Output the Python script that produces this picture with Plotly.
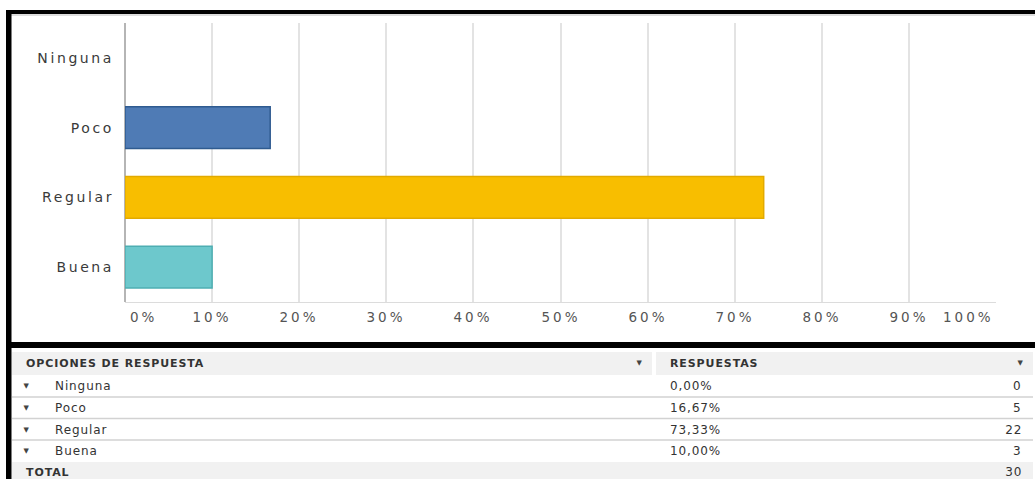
import plotly.graph_objects as go

# ---------------- data ----------------
categories = ["Ninguna", "Poco", "Regular", "Buena"]
percentages = [0.00, 16.67, 73.33, 10.00]
counts = [0, 5, 22, 3]
x_ticks = [0, 10, 20, 30, 40, 50, 60, 70, 80, 90, 100]
x_tick_labels = [f"{v}%" for v in x_ticks]
header_left = "OPCIONES DE RESPUESTA"
header_right = "RESPUESTAS"
total_label = "TOTAL"

# ---------------- styles ----------------
fill_colors = ["rgba(0,0,0,0)", "#4f7bb5", "#f8be00", "#6dc8cc"]
edge_colors = ["rgba(0,0,0,0)", "#2f5b90", "#e2aa00", "#4eaeb2"]

W, H = 1035, 479


def px(x):
    return x / W


def py(y):
    return 1 - y / H


CHART_FONT = "DejaVu Sans"
TABLE_FONT = "DejaVu Sans"

fig = go.Figure(
    go.Bar(
        x=percentages,
        y=categories,
        orientation="h",
        width=0.6,
        marker=dict(color=fill_colors, line=dict(color=edge_colors, width=1.5)),
        hoverinfo="skip",
    )
)

fig.update_layout(
    width=W,
    height=H,
    margin=dict(l=0, r=0, t=0, b=0),
    paper_bgcolor="white",
    plot_bgcolor="white",
    showlegend=False,
    xaxis=dict(
        domain=[px(125), px(996)],
        range=[0, 100],
        tickvals=x_ticks,
        showticklabels=False,
        showgrid=True,
        gridcolor="#e3e3e3",
        gridwidth=2,
        zeroline=True,
        zerolinecolor="#b5b5b5",
        zerolinewidth=2,
        showline=True,
        linecolor="#dcdcdc",
        linewidth=1,
        fixedrange=True,
    ),
    yaxis=dict(
        domain=[py(302), py(23)],
        categoryorder="array",
        categoryarray=list(reversed(categories)),
        range=[-0.5, 3.5],
        showgrid=False,
        zeroline=False,
        ticks="",
        ticklabelstandoff=10,
        tickfont=dict(family=CHART_FONT, size=14, color="#3a3a3a"),
        fixedrange=True,
    ),
)

annotations = []
# x tick labels (first left aligned, last right aligned as in the source)
for v, lab in zip(x_ticks, x_tick_labels):
    anchor = "center"
    if v == x_ticks[0]:
        anchor = "left"
    elif v == x_ticks[-1]:
        anchor = "right"
    annotations.append(
        dict(
            x=v, y=py(317), xref="x", yref="paper", text=lab, showarrow=False,
            xanchor=anchor, align=anchor, yanchor="middle",
            xshift=3 if anchor == "left" else 0,
            font=dict(family=CHART_FONT, size=13.5, color="#555555"),
        )
    )
N_XTICK_ANN = len(annotations)

shapes = []
# black frame around chart
shapes.append(dict(type="rect", xref="paper", yref="paper", x0=px(6), x1=1, y0=py(14), y1=py(10),
                   fillcolor="black", line=dict(width=0)))
shapes.append(dict(type="line", xref="paper", yref="paper", x0=px(11), x1=1, y0=py(15), y1=py(15),
                   line=dict(color="#bbbbbb", width=1)))
shapes.append(dict(type="rect", xref="paper", yref="paper", x0=px(6), x1=px(11.5), y0=0, y1=py(10),
                   fillcolor="black", line=dict(width=0)))
shapes.append(dict(type="rect", xref="paper", yref="paper", x0=px(6), x1=1, y0=py(348), y1=py(342),
                   fillcolor="black", line=dict(width=0)))

# table backgrounds
TL, TR, COLDIV = 12, 1033, 654
shapes.append(dict(type="rect", xref="paper", yref="paper", x0=px(TL), x1=px(COLDIV - 2), y0=py(375), y1=py(352),
                   fillcolor="#f1f1f1", line=dict(width=0)))
shapes.append(dict(type="rect", xref="paper", yref="paper", x0=px(COLDIV + 2), x1=px(TR), y0=py(375), y1=py(352),
                   fillcolor="#f1f1f1", line=dict(width=0)))
shapes.append(dict(type="rect", xref="paper", yref="paper", x0=px(TL), x1=px(TR), y0=0, y1=py(462),
                   fillcolor="#f1f1f1", line=dict(width=0)))
for ysep in [397, 418.5, 440]:
    shapes.append(dict(type="line", xref="paper", yref="paper", x0=px(TL), x1=px(TR), y0=py(ysep), y1=py(ysep),
                       line=dict(color="#d2d2d2", width=1.5)))

TXT = "#333333"
row_y = [386, 408, 429.5, 451]


def add_text(x, y, text, anchor="left", bold=False, size=12, color=TXT):
    annotations.append(
        dict(
            x=px(x), y=py(y), xref="paper", yref="paper", showarrow=False,
            text=f"<b>{text}</b>" if bold else text,
            xanchor=anchor, align=anchor, yanchor="middle",
            font=dict(family=TABLE_FONT, size=size, color=color),
        )
    )


# header
add_text(24, 363.5, header_left, bold=True, size=11)
add_text(640, 363, "▼", anchor="center", size=7, color="#444444")
add_text(668, 363.5, header_right, bold=True, size=11)
add_text(1021, 363, "▼", anchor="center", size=7, color="#444444")

# rows
for cat, pct, cnt, yy in zip(categories, percentages, counts, row_y):
    add_text(27, yy, "▼", anchor="center", size=7, color="#444444")
    add_text(53, yy, cat)
    add_text(668, yy, f"{pct:.2f}".replace(".", ",") + "%")
    add_text(1024, yy, str(cnt), anchor="right")

# total
add_text(24, 472, total_label, bold=True, size=11)
add_text(1024, 472, str(sum(counts)), anchor="right")

fig.update_layout(annotations=annotations, shapes=shapes)

# page: no body margin; slightly widened letter spacing like the source typeface
post = """
document.documentElement.style.margin='0';
document.body.style.margin='0';
document.body.style.overflow='hidden';
var gd = document.getElementById('{plot_id}');
gd.querySelectorAll('.ytick text').forEach(function(t){ t.style.letterSpacing='2.6px'; });
gd.querySelectorAll('g.annotation').forEach(function(g){
  var i = +g.getAttribute('data-index');
  var t = g.querySelector('text.annotation-text');
  if (!t) return;
  t.style.letterSpacing = (i < %d) ? '3px' : '0.9px';
});
""" % N_XTICK_ANN

fig.write_html("out.html", post_script=post, config={"displayModeBar": False})
